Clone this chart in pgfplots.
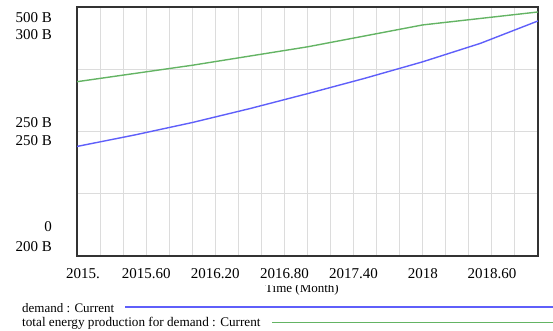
\documentclass[border=0pt]{standalone}
\usepackage{pgfplots}
\pgfplotsset{compat=1.18}
\usepackage{fontspec}
\setmainfont{Liberation Serif}
\definecolor{dblue}{RGB}{95,95,250}
\definecolor{tgreen}{RGB}{100,180,100}
\definecolor{gridc}{RGB}{220,220,220}
\begin{document}
\begin{tikzpicture}
\begin{axis}[at={(77pt,75pt)}, anchor=south west, scale only axis,
  width=461pt, height=249pt,
  xmin=2015, xmax=2019, ymin=0, ymax=500,
  xtick={2015,2015.2,2015.4,2015.6,2015.8,2016,2016.2,2016.4,2016.6,2016.8,2017,2017.2,2017.4,2017.6,2017.8,2018,2018.2,2018.4,2018.6,2018.8,2019},
  xticklabels={\hspace{12pt}2015.,,,2015.60,,,2016.20,,,2016.80,,,2017.40,,,2018,,,2018.60\hspace{18pt},,},
  ytick={125,250,375}, yticklabels={},
  grid=major, major grid style={gridc, line width=1pt},
  major tick length=0pt,
  axis line style={black!80, line width=1.4pt},
  xticklabel style={font=\fontsize{15}{15}\selectfont, anchor=base, yshift=-23pt},
  /pgf/number format/assume math mode=true,
]
\addplot[dblue, line width=1.4pt] coordinates {
 (2015,220) (2015.5,243) (2016,268) (2016.5,296) (2017,326)
 (2017.5,357) (2018,390) (2018.5,427) (2019,472)};
\end{axis}
\begin{axis}[at={(77pt,75pt)}, anchor=south west, scale only axis,
  width=461pt, height=249pt,
  xmin=2015, xmax=2019, ymin=200, ymax=300,
  axis lines=none, ticks=none]
\addplot[tgreen, line width=1.4pt] coordinates {
 (2015,270) (2016,276.6) (2017,284) (2018,292.8) (2019,298)};
\end{axis}
\begin{scope}[font=\fontsize{15}{15}\selectfont]
\node[anchor=base east, inner sep=0pt] at (52pt,308pt) {500 B};
\node[anchor=base east, inner sep=0pt] at (52pt,291pt) {300 B};
\node[anchor=base east, inner sep=0pt] at (52pt,203pt) {250 B};
\node[anchor=base east, inner sep=0pt] at (52pt,185pt) {250 B};
\node[anchor=base east, inner sep=0pt] at (52pt,99pt) {0};
\node[anchor=base east, inner sep=0pt] at (52pt,79pt) {200 B};
\end{scope}
\begin{scope}
\clip (0pt,0pt) rectangle (553pt,45pt);
\node[anchor=base, inner sep=0pt, font=\fontsize{13}{13}\selectfont] at (302pt,38pt) {Time (Month)};
\end{scope}
\node[anchor=base west, inner sep=0pt, font=\fontsize{13}{13}\selectfont] at (22pt,18.5pt) {demand : Current};
\node[anchor=base west, inner sep=0pt, font=\fontsize{13.2}{13.2}\selectfont] at (22pt,4pt) {total energy production for demand : Current};
\draw[dblue, line width=1.3pt] (125pt,24pt) -- (553pt,24pt);
\draw[tgreen, line width=1.3pt] (272pt,8.5pt) -- (553pt,8.5pt);
\pgfresetboundingbox
\path (0pt,0pt) rectangle (553pt,331pt);
\end{tikzpicture}
\end{document}
